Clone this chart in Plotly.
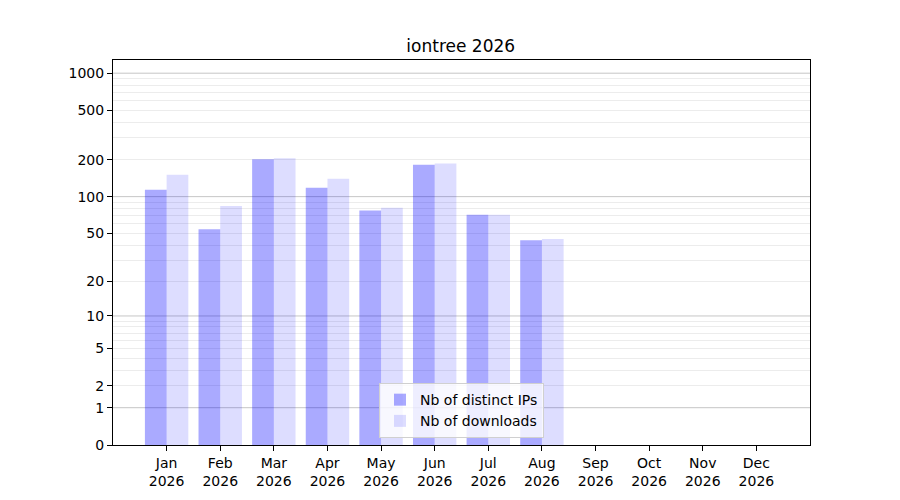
import numpy as np
import plotly.graph_objects as go

# monthly stats
months = ["Jan", "Feb", "Mar", "Apr", "May", "Jun", "Jul", "Aug", "Sep", "Oct", "Nov", "Dec"]
year = "2026"
distinct_ips = [114, 54, 201, 118, 77, 182, 71, 44]
downloads = [151, 84, 205, 140, 81, 186, 71, 45]

ytick_vals = [0, 1, 2, 5, 10, 20, 50, 100, 200, 500, 1000]
major_grid = [1, 10, 100, 1000]
minor_grid = [m * d for d in (1, 10, 100) for m in range(2, 10)]


def scale(v):
    # chart uses log10(1 + n) on the y axis
    return np.log10(1 + np.asarray(v, dtype=float))


x_ips = list(range(len(distinct_ips)))
x_dl = list(range(len(downloads)))

fig = go.Figure()
fig.add_trace(go.Bar(
    x=x_ips, y=scale(distinct_ips), customdata=distinct_ips,
    name="Nb of distinct IPs",
    marker=dict(color="rgba(0,0,255,0.333)", line=dict(width=0)),
    hovertemplate="%{customdata}<extra>Nb of distinct IPs</extra>",
))
fig.add_trace(go.Bar(
    x=x_dl, y=scale(downloads), customdata=downloads,
    name="Nb of downloads",
    marker=dict(color="rgba(0,0,255,0.133)", line=dict(width=0)),
    hovertemplate="%{customdata}<extra>Nb of downloads</extra>",
))

# darker grid lines on the decades
for g in major_grid:
    fig.add_shape(type="line", xref="paper", x0=0, x1=1, yref="y",
                  y0=float(scale(g)), y1=float(scale(g)),
                  line=dict(color="#c6c6c6", width=1), layer="below")

fig.update_layout(
    width=900, height=500,
    paper_bgcolor="white", plot_bgcolor="white",
    margin=dict(l=105, r=98, t=52, b=63),
    font=dict(family="DejaVu Sans", size=14, color="black"),
    title=dict(text="iontree " + year, x=0.503, xanchor="center", y=0.924, yanchor="middle",
               font=dict(size=17)),
    barmode="group", bargap=0.19, bargroupgap=0,
    showlegend=True,
    legend=dict(x=0.5, xanchor="center", y=0.018, yanchor="bottom",
                bgcolor="rgba(255,255,255,0.8)", bordercolor="#d0d0d0", borderwidth=1,
                font=dict(size=14), tracegroupgap=2),
)
fig.update_xaxes(
    range=[-1, 12], tickmode="array",
    tickvals=list(range(len(months))),
    ticktext=[m + "<br>" + year for m in months],
    showgrid=False, zeroline=False,
    showline=True, linecolor="black", linewidth=1, mirror=True,
    ticks="outside", ticklen=5, tickcolor="black",
)
fig.update_yaxes(
    range=[0, 3.107], tickmode="array",
    tickvals=scale(ytick_vals).tolist(),
    ticktext=[str(v) for v in ytick_vals],
    showgrid=False, zeroline=False,
    showline=True, linecolor="black", linewidth=1, mirror=True,
    ticks="outside", ticklen=5, tickcolor="black",
    minor=dict(tickmode="array", tickvals=scale(minor_grid).tolist(),
               showgrid=True, gridcolor="#ececec", gridwidth=1, ticks=""),
)

fig.write_html("out.html")
